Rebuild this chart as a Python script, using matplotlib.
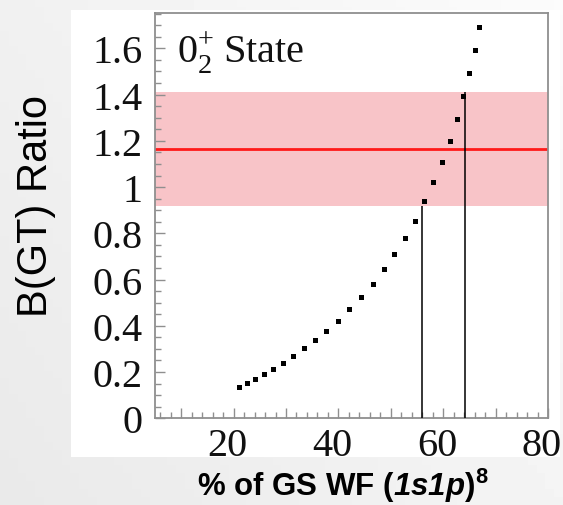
import numpy as np
import matplotlib as mpl
mpl.use('Agg')
from matplotlib import pyplot as plt
from matplotlib.patches import Rectangle
from matplotlib.ticker import MultipleLocator, FixedLocator, FuncFormatter
from matplotlib.transforms import ScaledTranslation

# ---------- data: B(GT) ratio vs ground-state WF fraction ----------
gsFrac = [21.0, 22.5, 24.0, 25.8, 27.5, 29.4, 31.4, 33.5, 35.6, 37.7,
          39.9, 42.1, 44.3, 46.6, 48.7, 50.7, 52.8, 54.7, 56.4, 58.1,
          59.7, 61.3, 62.6, 63.8, 65.0, 66.0, 66.9]
bgtRatio = [0.137, 0.153, 0.172, 0.192, 0.215, 0.239, 0.270, 0.303, 0.338, 0.379,
            0.423, 0.471, 0.524, 0.580, 0.644, 0.710, 0.780, 0.855, 0.938, 1.021,
            1.110, 1.200, 1.296, 1.393, 1.494, 1.593, 1.694]

expRatio = 1.165          # measured ratio
expLow, expHigh = 0.92, 1.41   # error band
crossX = [55.9, 64.1]     # where the calculation meets the band edges
crossY = [expLow, expHigh]

xTicks = [20, 40, 60, 80]
yTicks = [0, 0.2, 0.4, 0.6, 0.8, 1.0, 1.2, 1.4, 1.6]

# serif digits for the state label, bold(-italic) sans for the axis title
plt.rcParams['mathtext.fontset'] = 'custom'
plt.rcParams['mathtext.rm'] = 'Liberation Serif'
plt.rcParams['mathtext.sf'] = 'Liberation Sans:italic:bold'
plt.rcParams['mathtext.bf'] = 'Liberation Sans:bold'

fig = plt.figure(figsize=(5.63, 5.06), dpi=100)

# slide-like background with white panel behind the plot
bg = fig.add_axes([0, 0, 1, 1], zorder=-5)
gx, gy = np.meshgrid(np.linspace(0, 1, 64), np.linspace(0, 1, 64))
grad = 0.915 + 0.07 * (0.6 * gx + 0.4 * (1 - gy))
bg.imshow(grad, cmap='gray', vmin=0, vmax=1, extent=[0, 1, 0, 1],
          aspect='auto', origin='upper')
bg.add_patch(Rectangle((71 / 563, 1 - 458 / 506), 489 / 563, 447 / 506,
                       facecolor='white', edgecolor='none'))
bg.set_xlim(0, 1)
bg.set_ylim(0, 1)
bg.axis('off')

ax = fig.add_axes([155 / 563, 1 - 419.3 / 506, 393 / 563, 405.3 / 506])
ax.set_facecolor('none')

ax.axhspan(expLow, expHigh, color='#f8c4c8', lw=0, zorder=1)
ax.axhline(expRatio, color='#ff1a1a', lw=2.0, zorder=2)
ax.vlines(crossX, 0, crossY, colors='k', lw=1.1, zorder=3)
ax.plot(gsFrac, bgtRatio, 's', color='k', ms=3.6, mew=0, zorder=4)

ax.set_xlim(5, 80)
ax.set_ylim(0, 1.753)

ax.xaxis.set_major_locator(MultipleLocator(10))
ax.xaxis.set_minor_locator(MultipleLocator(2))
ax.xaxis.set_major_formatter(FuncFormatter(
    lambda v, p: '%d' % v if int(round(v)) in xTicks else ''))
ax.yaxis.set_major_locator(FixedLocator(yTicks))
ax.yaxis.set_minor_locator(MultipleLocator(0.05))
ax.yaxis.set_major_formatter(FuncFormatter(lambda v, p: '%g' % v))

for s in ax.spines.values():
    s.set_color('#8f8f8f')
    s.set_linewidth(1.3)
ax.tick_params(which='both', direction='in', top=False, right=False,
               color='#8f8f8f', width=1.0)
ax.tick_params(which='major', length=7)
ax.tick_params(which='minor', length=4)
ax.tick_params(axis='x', pad=6)
ax.tick_params(axis='y', pad=9)

for lab in ax.get_xticklabels() + ax.get_yticklabels():
    lab.set_fontfamily('Liberation Serif')
    lab.set_fontsize(29)
    lab.set_color('#111111')
shift = ScaledTranslation(-6 / 100, 0, fig.dpi_scale_trans)
for lab in ax.get_xticklabels():
    lab.set_transform(lab.get_transform() + shift)

ax.text(0.056, 0.879, r'$\mathrm{0}_{\mathrm{2}}^{\mathrm{+}}\:$State',
        transform=ax.transAxes, fontfamily='Liberation Serif', fontsize=29,
        va='baseline', ha='left', color='#111111', zorder=5)

fig.text(36 / 563, 1 - 206 / 506, 'B(GT) Ratio', rotation=90,
         ha='center', va='center', fontfamily='Liberation Sans', fontsize=30)
fig.text(343 / 563, 1 - 486 / 506,
         r'% of GS WF ($\mathsf{1s1p}$)$^{\mathbf{8}}$',
         ha='center', va='center', fontfamily='Liberation Sans',
         fontweight='bold', fontsize=22.5)

plt.savefig('out.png', dpi=100)
